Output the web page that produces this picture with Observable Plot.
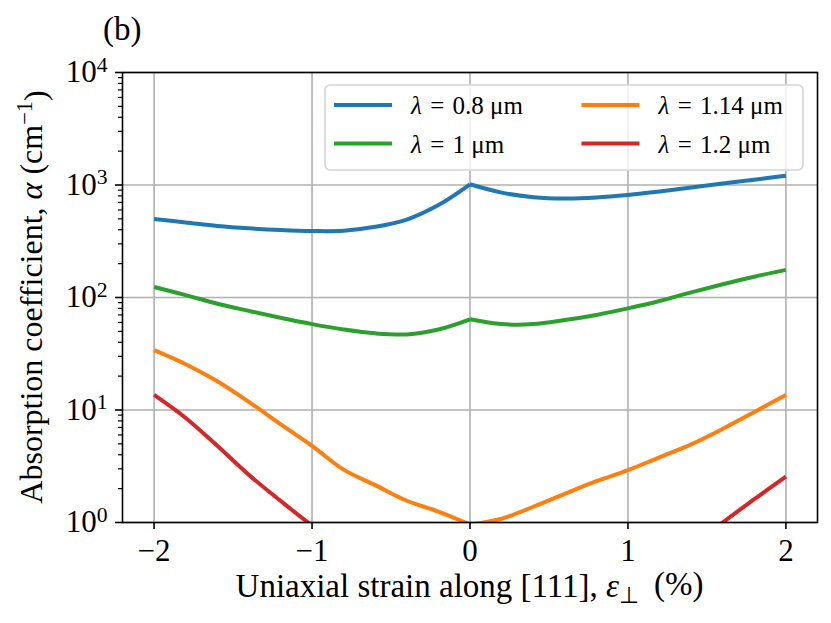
<!DOCTYPE html>
<html>
<head>
<meta charset="utf-8">
<script src="https://cdn.jsdelivr.net/npm/d3@7"></script>
<script src="https://cdn.jsdelivr.net/npm/@observablehq/plot@0.6"></script>
<style>
  html, body { margin: 0; padding: 0; background: #fff; }
  #chart { width: 831px; height: 623px; }
</style>
</head>
<body>
<div id="chart"></div>
<script>
// ---- data ----
const strain = [-2, -1.8, -1.6, -1.4, -1.2, -1, -0.8, -0.6, -0.4, -0.2, 0, 0.2, 0.4, 0.6, 0.8, 1, 1.2, 1.4, 1.6, 1.8, 2];
const alpha080 = [498, 465, 433, 412, 398, 390, 392, 425, 493, 663, 1015, 855, 780, 759, 774, 815, 875, 950, 1030, 1115, 1208];
const alpha100 = [124, 105, 88, 76, 66, 58, 52, 48, 47, 52, 64, 58, 58, 63, 70, 80, 93, 111, 131, 153, 176];
const alpha114 = [34, 25.5, 18, 11.8, 7.5, 4.8, 2.95, 2.15, 1.56, 1.25, 0.96, 1.08, 1.38, 1.8, 2.33, 2.92, 3.8, 4.95, 6.8, 9.6, 13.6];
const alpha120 = [13.6, 8.5, 4.8, 2.65, 1.56, 0.94, 0.6, null, null, null, null, null, null, null, null, null, null, 0.6, 1.0, 1.61, 2.56];
const seriesLabels = ["λ = 0.8 μm", "λ = 1 μm", "λ = 1.14 μm", "λ = 1.2 μm"];
const seriesColors = ["#1f77b4", "#2ca02c", "#ff7f0e", "#d62728"];
const xTicks = [-2, -1, 0, 1, 2];
const yTicks = [1, 10, 100, 1000, 10000];
const yMinorTicks = [1, 10, 100, 1000].flatMap(p => [2, 3, 4, 5, 6, 7, 8, 9].map(m => m * p));
const panelLabel = "(b)";

// table: each curve split into compressive / tensile branch (cusp at zero strain)
const seriesValues = [alpha080, alpha100, alpha114, alpha120];
const rows = [];
seriesValues.forEach((vals, i) => {
  strain.forEach((s, j) => {
    if (s <= 0) rows.push({ strain: s, alpha: vals[j], series: seriesLabels[i], branch: seriesLabels[i] + "|c" });
    if (s >= 0) rows.push({ strain: s, alpha: vals[j], series: seriesLabels[i], branch: seriesLabels[i] + "|t" });
  });
});

const FONT = "Liberation Serif, Times New Roman, serif";
const fmtMinus = d => d < 0 ? "\u2212" + Math.abs(d) : String(d);

const plot = Plot.plot({
  width: 831,
  height: 623,
  marginLeft: 122,
  marginRight: 14,
  marginTop: 72,
  marginBottom: 101,
  style: { fontFamily: FONT, fontSize: "30px", background: "white", color: "black" },
  x: { domain: [-2.2, 2.2] },
  y: { type: "log", domain: [1, 10000] },
  color: { domain: seriesLabels, range: seriesColors },
  marks: [
    Plot.gridX(xTicks, { stroke: "#b0b0b0", strokeOpacity: 1, strokeWidth: 1.6 }),
    Plot.gridY(yTicks, { stroke: "#b0b0b0", strokeOpacity: 1, strokeWidth: 1.6 }),
    Plot.line(rows, {
      x: "strain", y: "alpha", z: "branch", stroke: "series", curve: "catmull-rom",
      strokeWidth: 4, strokeLinejoin: "round", strokeLinecap: "butt", clip: true
    }),
    Plot.frame({ stroke: "black", strokeWidth: 1.6 }),
    Plot.axisX(xTicks, {
      tickSize: 7, tickPadding: 9, tickFormat: fmtMinus, fontSize: 31,
      strokeWidth: 1.6, label: null
    }),
    Plot.axisY(yTicks, {
      tickSize: 7, tickPadding: 8, tickFormat: d => String(Math.round(Math.log10(d))),
      fontSize: 31, strokeWidth: 1.6, label: null
    }),
    Plot.axisY(yMinorTicks, { tickSize: 4, tickFormat: () => "", strokeWidth: 1.2, label: null })
  ]
});

document.getElementById("chart").appendChild(plot);

// ---- text refinements: superscripts, italics, labels, legend ----
const svg = d3.select(plot);

svg.selectAll('g[aria-label="x-axis tick label"] text').style("font-size", "31px");
svg.selectAll('g[aria-label="y-axis tick label"] text').style("font-size", "31px");

// y tick labels as 10^k
svg.selectAll('g[aria-label="y-axis tick label"] text').each(function () {
  const k = this.textContent;
  if (k === "") return;
  const t = d3.select(this);
  t.text("10");
  t.append("tspan").attr("dy", "-0.5em").attr("font-size", "0.7em").text(k);
});

const fx0 = 122, fx1 = 831 - 14, fy0 = 72, fy1 = 623 - 101;

// panel label
svg.append("text")
  .attr("x", 103).attr("y", 40).attr("text-anchor", "start")
  .attr("font-family", FONT).attr("font-size", 33).attr("fill", "black")
  .text(panelLabel);

// x label
const xl = svg.append("text")
  .attr("x", (fx0 + fx1) / 2).attr("y", 597)
  .attr("text-anchor", "middle")
  .attr("font-family", FONT).attr("font-size", 33).attr("fill", "black");
xl.append("tspan").text("Uniaxial strain along [111], ");
xl.append("tspan").attr("font-style", "italic").text("ε");
xl.append("tspan").attr("dy", "0.25em").attr("font-size", "0.7em").text("⊥");
xl.append("tspan").attr("dy", "-0.25em").text("\u2009 (%)");

// y label
const yl = svg.append("text")
  .attr("transform", `translate(42, ${(fy0 + fy1) / 2}) rotate(-90)`)
  .attr("text-anchor", "middle")
  .attr("font-family", FONT).attr("font-size", 32).attr("fill", "black");
yl.append("tspan").text("Absorption coefficient, ");
yl.append("tspan").attr("font-style", "italic").text("α");
yl.append("tspan").text(" (cm");
yl.append("tspan").attr("dy", "-0.45em").attr("font-size", "0.7em").text("\u22121");
yl.append("tspan").attr("dy", "0.45em").text(")");

// legend
const lg = svg.append("g").attr("font-family", FONT).attr("font-size", 25).attr("text-anchor", "start");
lg.append("rect")
  .attr("x", 325).attr("y", 85).attr("width", 478).attr("height", 85)
  .attr("rx", 5).attr("fill", "white").attr("fill-opacity", 0.8)
  .attr("stroke", "#d5d5d5").attr("stroke-width", 1.6);
const cols = [334, 581.5];
const rowsY = [105, 143.5];
seriesLabels.forEach((lab, i) => {
  const cx = cols[Math.floor(i / 2)];
  const cy = rowsY[i % 2];
  lg.append("line")
    .attr("x1", cx).attr("x2", cx + 58).attr("y1", cy).attr("y2", cy)
    .attr("stroke", seriesColors[i]).attr("stroke-width", 4);
  const t = lg.append("text").attr("x", cx + 77).attr("y", cy + 9)
    .attr("text-anchor", "start").attr("fill", "black");
  const parts = lab.split("λ");
  t.append("tspan").attr("font-style", "italic").text("λ");
  t.append("tspan").text(parts[1].replace(" = ", "\u2004=\u2004"));
});
</script>
</body>
</html>
